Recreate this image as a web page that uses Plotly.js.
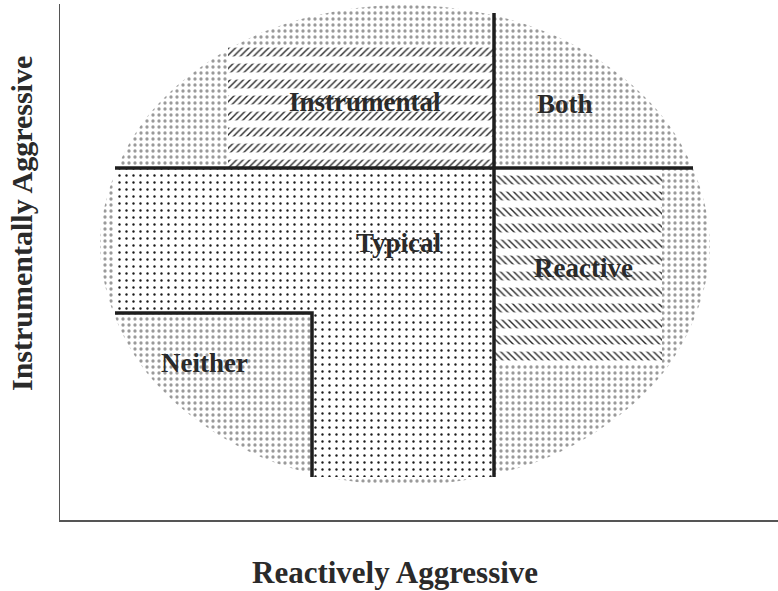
<!DOCTYPE html>
<html>
<head>
<meta charset="utf-8">
<script src="https://cdn.plot.ly/plotly-3.0.1.min.js"></script>
<style>html,body{margin:0;padding:0;background:#fff;}#chart{width:778px;height:591px;}</style>
</head>
<body>
<div id="chart"></div>
<script>
// ---- Data (diagram coordinates) ----
// Outline of the population ellipse (read at 12 points around the rim, closed)
var ellipseX = [650, 609, 498, 345, 192, 81, 40, 81, 192, 345, 498, 609, 650];
var ellipseY = [275, 395, 483, 515, 483, 395, 275, 155, 67, 35, 67, 155, 275];

// "Typical" region (L-shaped, dotted)
var typicalX = [55, 434, 434, 252, 252, 55, 55];
var typicalY = [352, 352, 43, 43, 207, 207, 352];

// "Instrumental" hatched block
var instrX = [168, 434, 434, 168, 168];
var instrY = [352, 352, 475, 475, 352];

// "Reactive" hatched block
var reactX = [434, 602, 602, 434, 434];
var reactY = [157, 157, 352, 352, 157];

// Cut-off lines
var hLineX = [55, 633];
var hLineY = [352, 352];
var vLineX = [434, 434];
var vLineY = [43, 507];
var neitherLineX = [55, 252, 252];
var neitherLineY = [207, 207, 43];

// Group labels
var groupNames = ["Instrumental", "Both", "Typical", "Reactive", "Neither"];
var groupX = [305, 505, 339, 523, 144];
var groupY = [418, 416, 277, 252, 157];

// Axis titles
var xTitle = "Reactively Aggressive";
var yTitle = "Instrumentally Aggressive";

// ---- Traces ----
var serif = '"Liberation Serif", "Times New Roman", serif';
var lineColor = '#1e1e1e';

function region(x, y, pattern, spline) {
  return {
    type: 'scatter', mode: 'lines', x: x, y: y,
    fill: 'toself', fillcolor: 'rgba(0,0,0,0)',
    line: {width: 0, shape: spline ? 'spline' : 'linear', smoothing: 1},
    fillpattern: pattern,
    hoverinfo: 'skip', showlegend: false
  };
}

var traces = [
  region(ellipseX, ellipseY, {shape: '.', size: 6, solidity: 0.24, fgcolor: '#9a9a9a', bgcolor: '#ffffff'}, true),
  region(typicalX, typicalY, {shape: '.', size: 7, solidity: 0.09, fgcolor: '#1a1a1a', bgcolor: '#ffffff'}),
  region(instrX, instrY, {shape: '/', size: 4.7, solidity: 0.3, fgcolor: '#2a2a2a', bgcolor: '#ffffff'}),
  region(instrX, instrY, {shape: '-', size: 16, solidity: 0.45, fgcolor: '#ffffff'}),
  region(reactX, reactY, {shape: '\\', size: 4.7, solidity: 0.3, fgcolor: '#2a2a2a', bgcolor: '#ffffff'}),
  region(reactX, reactY, {shape: '-', size: 16, solidity: 0.45, fgcolor: '#ffffff'})
];

[[hLineX, hLineY], [vLineX, vLineY], [neitherLineX, neitherLineY]].forEach(function (p) {
  traces.push({
    type: 'scatter', mode: 'lines', x: p[0], y: p[1],
    line: {color: lineColor, width: 3.5},
    hoverinfo: 'skip', showlegend: false
  });
});

var annotations = groupNames.map(function (t, i) {
  return {
    text: t, x: groupX[i], y: groupY[i], xref: 'x', yref: 'y',
    showarrow: false, xanchor: 'center', yanchor: 'middle',
    font: {family: serif, size: 27, color: '#2a2a2a', weight: 700}
  };
});
annotations.push({
  text: xTitle, xref: 'paper', yref: 'paper', x: 0.4666, y: 0, yshift: -52,
  xanchor: 'center', yanchor: 'middle', showarrow: false,
  font: {family: serif, size: 31, color: '#2a2a2a', weight: 700}
});
annotations.push({
  text: yTitle, xref: 'paper', yref: 'paper', x: -0.0543, y: 0.5736,
  xanchor: 'center', yanchor: 'middle', textangle: -90, showarrow: false,
  font: {family: serif, size: 30, color: '#2a2a2a', weight: 700}
});

var layout = {
  width: 778, height: 591,
  margin: {l: 60, r: 0, t: 4, b: 71, pad: 0},
  paper_bgcolor: '#ffffff', plot_bgcolor: '#ffffff',
  showlegend: false, hovermode: false,
  xaxis: {range: [0, 718], showgrid: false, zeroline: false, showticklabels: false,
          ticks: '', showline: true, linecolor: '#555555', linewidth: 1.5, fixedrange: true},
  yaxis: {range: [0, 516], showgrid: false, zeroline: false, showticklabels: false,
          ticks: '', showline: true, linecolor: '#555555', linewidth: 1.5, fixedrange: true},
  annotations: annotations
};

Plotly.newPlot('chart', traces, layout, {displayModeBar: false, staticPlot: true});
</script>
</body>
</html>
